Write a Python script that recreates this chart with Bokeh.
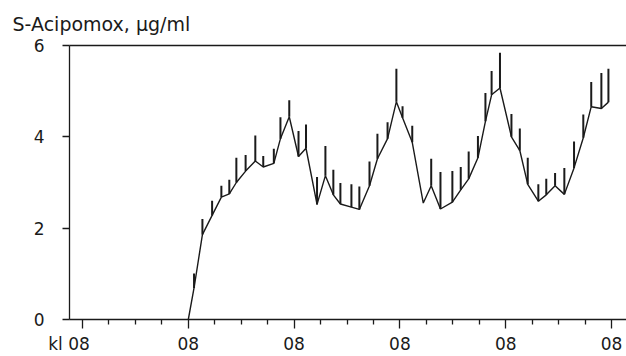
from bokeh.plotting import figure
from bokeh.models import FixedTicker, LinearAxis, Range1d, ColumnDataSource
from bokeh.embed import file_html
from bokeh.resources import INLINE

# time in hours from first "kl 08"
hours = [24.0, 25.3, 27.2, 29.4, 31.5, 33.3, 34.9, 37.0, 39.2, 41.0, 43.4, 44.9, 46.9,
         49.0, 50.7, 53.2, 55.1, 56.9, 58.5, 61.0, 62.8, 65.1, 66.9, 69.2, 71.2, 72.6,
         74.8, 77.3, 79.1, 81.2, 83.9, 85.8, 87.6, 89.7, 91.4, 92.8, 94.7, 97.3, 99.2,
         101.0, 103.4, 105.2, 107.2, 109.3, 111.5, 113.6, 115.4, 117.7, 119.3]
trough = [0.0, 0.69, 1.86, 2.28, 2.68, 2.75, 3.0, 3.25, 3.47, 3.34, 3.42, 3.96, 4.44,
          3.57, 3.75, 2.52, 3.15, 2.73, 2.53, 2.46, 2.41, 2.93, 3.52, 3.96, 4.77, 4.42,
          3.88, 2.55, 2.93, 2.42, 2.57, 2.84, 3.08, 3.54, 4.34, 4.92, 5.07, 4.0, 3.7,
          2.96, 2.59, 2.73, 2.93, 2.74, 3.32, 3.98, 4.66, 4.62, 4.76]
peak = [None, 1.01, 2.2, 2.6, 2.93, 3.06, 3.54, 3.6, 4.03, 3.58, 3.74, 4.43, 4.8,
        4.13, 4.27, 3.12, 3.8, 3.28, 2.99, 2.96, 2.91, 3.46, 4.07, 4.32, 5.49, 4.67,
        4.24, None, 3.52, 3.23, 3.25, 3.34, 3.68, 4.02, 4.96, 5.44, 5.84, 4.5, 4.18,
        3.54, 2.96, 3.08, 3.21, 3.32, 3.9, 4.49, 5.2, 5.4, 5.49]

y_ticks = [0, 2, 4, 6]
x_major = [0, 24, 48, 72, 96, 120]
x_minor = [6, 12, 18, 30, 36, 42, 54, 60, 66, 78, 84, 90, 102, 108, 114]
x_labels = ["kl 08", "08", "08", "08", "08", "08"]
title_text = "S-Acipomox, \u00b5g/ml"

FONT = "DejaVu Sans"
INK = "#1a1a1a"

p = figure(width=626, height=356, output_backend="svg", toolbar_location=None,
           x_range=Range1d(-2.95, 123.4), y_range=Range1d(0, 6),
           min_border_left=69, min_border_right=0, min_border_top=45,
           min_border_bottom=37)
p.outline_line_color = None
p.grid.visible = False
p.background_fill_color = "white"
p.border_fill_color = "white"

p.title.text = title_text
p.title.align = "left"
p.title.offset = -57
p.title.text_font = FONT
p.title.text_font_size = "19px"
p.title.text_font_style = "normal"
p.title.text_color = INK
p.title.standoff = 21

src = ColumnDataSource(dict(
    t=hours, lo=trough,
    hi=[float("nan") if v is None else v for v in peak]))

p.line("t", "lo", source=src, line_color=INK, line_width=1.4)
p.segment(x0="t", y0="lo", x1="t", y1="hi", source=src, line_color=INK, line_width=2)

# x axis; first label padded with no-break spaces so "08" sits under its tick
labels = list(x_labels)
labels[0] = labels[0] + "\u00a0" * 5
xa = p.xaxis[0]
xa.ticker = FixedTicker(ticks=x_major, minor_ticks=x_minor)
xa.major_label_overrides = {t: lab for t, lab in zip(x_major, labels)}
xa.major_tick_out = 9
xa.major_tick_in = 0
xa.minor_tick_out = 5
xa.minor_tick_in = 0
xa.axis_line_width = 1.3
xa.axis_line_color = INK
xa.major_tick_line_color = INK
xa.minor_tick_line_color = INK
xa.major_tick_line_width = 1.3
xa.minor_tick_line_width = 1.3
xa.major_label_text_font = FONT
xa.major_label_text_font_size = "17px"
xa.major_label_text_color = INK
xa.major_label_standoff = 5

# y axis
ya = p.yaxis[0]
ya.ticker = FixedTicker(ticks=y_ticks)
ya.major_tick_out = 7
ya.major_tick_in = 0
ya.minor_tick_line_color = None
ya.axis_line_width = 1.3
ya.axis_line_color = INK
ya.major_tick_line_color = INK
ya.major_tick_line_width = 1.3
ya.major_label_text_font = FONT
ya.major_label_text_font_size = "17px"
ya.major_label_text_color = INK
ya.major_label_standoff = 18

# top border line
top = LinearAxis(ticker=FixedTicker(ticks=[]), major_label_text_font_size="0px",
                 axis_line_width=1.3, axis_line_color=INK,
                 major_tick_line_color=None, minor_tick_line_color=None)
p.add_layout(top, "above")

open("out.html", "w").write(file_html(p, INLINE))
